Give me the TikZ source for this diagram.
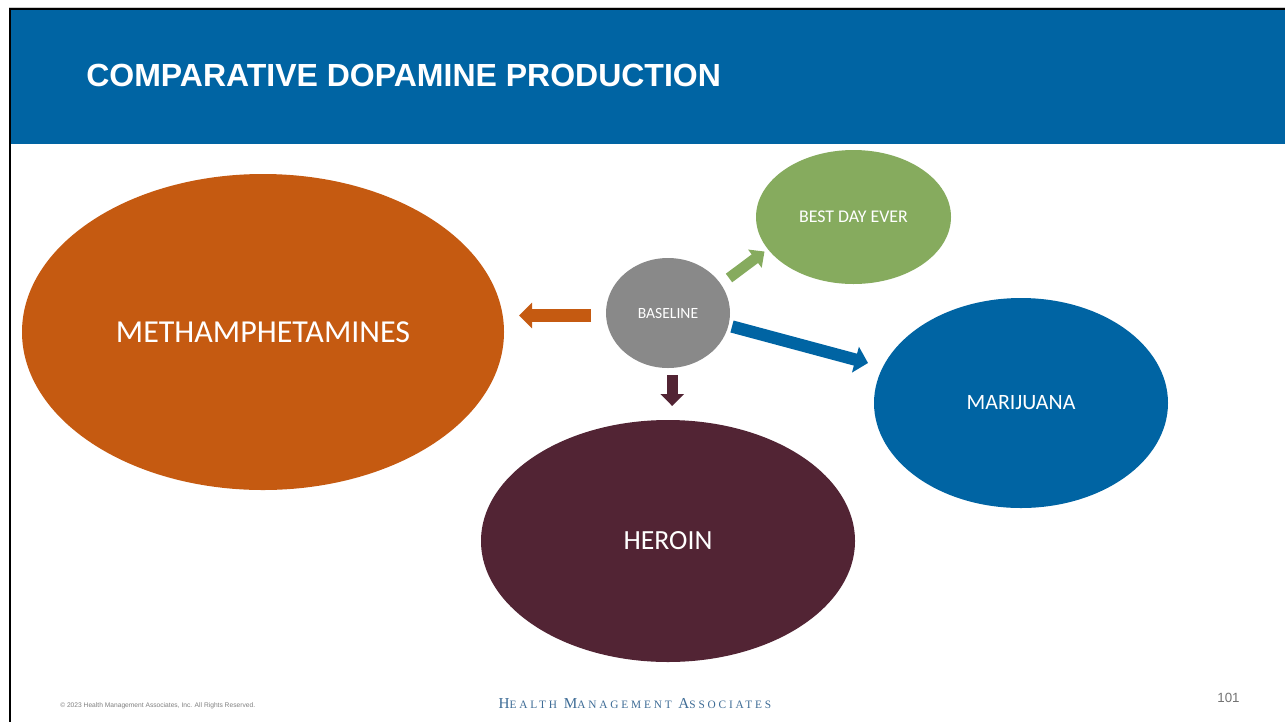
\documentclass[tikz,border=0pt]{standalone}
\usepackage{fontspec}
\setmainfont{Liberation Sans}
\newfontfamily\calib{Carlito}
\newfontfamily\logofont[LetterSpace=25]{Liberation Serif}
\usetikzlibrary{shapes.geometric,arrows.meta}
\definecolor{hdrblue}{RGB}{0,100,163}
\definecolor{methc}{RGB}{197,90,17}
\definecolor{basec}{RGB}{137,137,137}
\definecolor{bestc}{RGB}{134,171,94}
\definecolor{maric}{RGB}{0,100,163}
\definecolor{heroc}{RGB}{82,36,52}
\definecolor{logoc}{RGB}{62,108,150}
\newcommand\lsc[2]{{\fontsize{11.4}{12}\selectfont #1}{\fontsize{8.5}{9}\selectfont #2}}
\tikzset{
  blob/.style={ellipse, draw=none, inner sep=0pt, text=white, font=\calib},
  blockarr/.style={draw, line cap=butt},
}
\begin{document}
\begin{tikzpicture}[x=0.75pt,y=-0.75pt]
\useasboundingbox (0,0) rectangle (1285,722);
\fill[white] (0,0) rectangle (1285,722);
% header
\fill[hdrblue] (10,10) rectangle (1285,144);
\draw[black!20, line width=0.75pt] (9,7) -- (1285,7);
\draw[black, line width=1.5pt] (9,9) -- (1285,9);
\draw[black, line width=1.5pt] (9.5,8) -- (9.5,722);
\node[anchor=base west, inner sep=0pt, text=white, font=\bfseries\fontsize{24}{28}\selectfont] (title) at (86,86) {COMPARATIVE DOPAMINE PRODUCTION};
% ellipses
\node[blob, fill=methc, minimum width=361.5pt, minimum height=237pt, font=\calib\fontsize{24}{28}\selectfont] (meth) at (263,332) {METHAMPHETAMINES};
\node[blob, fill=basec, minimum width=93pt, minimum height=82.5pt, font=\calib\fontsize{11.7}{14}\selectfont] (base) at (668,313) {BASELINE};
\node[blob, fill=bestc, minimum width=146.25pt, minimum height=100.5pt, font=\calib\fontsize{13.4}{16}\selectfont] (best) at (853.5,217) {BEST DAY EVER};
\node[blob, fill=maric, minimum width=220.5pt, minimum height=157.5pt, font=\calib\fontsize{16.4}{19}\selectfont] (mari) at (1021,403) {MARIJUANA};
\node[blob, fill=heroc, minimum width=280.5pt, minimum height=181.5pt, font=\calib\fontsize{20.8}{24}\selectfont] (hero) at (668,541) {HEROIN};
% arrow end points
\coordinate (mS) at (591,315.5);
\coordinate (mE) at (519,315.5);
\coordinate (hS) at (672.2,375);
\coordinate (hE) at (672.2,406);
\coordinate (bS) at (729,278);
\coordinate (bE) at (764.5,251.5);
\coordinate (jS) at (732,326.5);
\coordinate (jE) at (868,363);
% block arrows
\draw[blockarr, methc, line width=9.5pt, -{Triangle[width=18.75pt,length=9.75pt]}] (mS) -- (mE);
\draw[blockarr, heroc, line width=8.25pt, -{Triangle[width=17.25pt,length=9pt]}] (hS) -- (hE);
\draw[blockarr, bestc, line width=8pt, -{Triangle[width=16.5pt,length=9pt]}] (bS) -- (bE);
\draw[blockarr, maric, line width=9.25pt, -{Triangle[width=19.5pt,length=9.75pt]}] (jS) -- (jE);
% footer
\node[anchor=base west, inner sep=0pt, text=black!50, font=\fontsize{5}{6}\selectfont] (copy) at (60,707) {\textcopyright{} 2023 Health Management Associates, Inc. All Rights Reserved.};
\node[anchor=base, inner sep=0pt, text=logoc, font=\logofont] (logo) at (635,708.5) {\lsc{H}{EALTH} \lsc{M}{ANAGEMENT} \lsc{A}{SSOCIATES}};
\node[anchor=base, inner sep=0pt, text=black!55, font=\fontsize{10}{12}\selectfont] (page) at (1228.5,702) {101};
\end{tikzpicture}
\end{document}
